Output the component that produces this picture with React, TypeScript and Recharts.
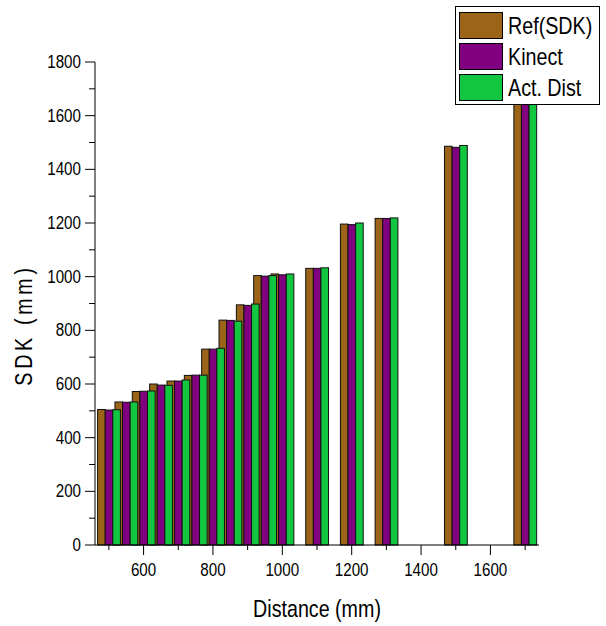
import { Bar, BarChart, Legend, XAxis, YAxis } from "recharts";

const distances = [500, 550, 600, 650, 700, 750, 800, 850, 900, 950, 1000, 1100, 1200, 1300, 1500, 1700];
const refSdk = [505, 533, 572, 600, 611, 632, 730, 838, 895, 1004, 1010, 1031, 1196, 1217, 1486, 1690];
const kinect = [503, 532, 573, 596, 611, 633, 730, 837, 893, 1002, 1007, 1031, 1194, 1217, 1482, 1688];
const actDist = [504, 533, 574, 595, 615, 633, 733, 834, 898, 1004, 1010, 1033, 1200, 1219, 1489, 1692];

const seriesNames = ["Ref(SDK)", "Kinect", "Act. Dist"];
const xTicks = [500, 600, 700, 800, 900, 1000, 1100, 1200, 1300, 1400, 1500, 1600, 1700];
const yTicks = [0, 100, 200, 300, 400, 500, 600, 700, 800, 900, 1000, 1100, 1200, 1300, 1400, 1500, 1600, 1700, 1800];

const data = distances.map((d, i) => ({
  distance: d,
  ref: refSdk[i],
  kinect: kinect[i],
  act: actDist[i],
}));

const FONT = "'Liberation Sans', Arial, sans-serif";
const SX = 0.82; // no narrow font installed, squeeze horizontally
const BAR_W = 7.6;
const X_DOMAIN = [460, 1740];

// narrow text helper
const NText = ({ x, y, angle = 0, size, anchor = "middle", spacing = 0, children }: any) => (
  <text
    transform={`translate(${x} ${y}) rotate(${angle}) scale(${SX} 1)`}
    textAnchor={anchor}
    fontSize={size}
    fontFamily={FONT}
    letterSpacing={spacing}
    fill="#000"
  >
    {children}
  </text>
);

// each series sits on its own x axis so recharts doesn't squeeze the group
const barShape = (shift: number) => (props: any) => {
  const { x, y, width, height, fill } = props;
  if (!height) return <g />;
  return <rect x={x + shift} y={y} width={width} height={height} fill={fill} stroke="#111" strokeWidth={1} />;
};

const YTick = (props: any) => {
  const { x, y, payload } = props;
  const major = payload.value % 200 === 0;
  return (
    <g>
      <line x1={x - (major ? 10 : 6)} x2={x} y1={y} y2={y} stroke="#000" />
      {major && (
        <NText x={x - 14} y={y + 6} size={18.5} anchor="end">
          {payload.value}
        </NText>
      )}
    </g>
  );
};

const XTick = (props: any) => {
  const { x, y, payload } = props;
  const major = payload.value % 200 === 0;
  return (
    <g>
      <line x1={x} x2={x} y1={y} y2={y + (major ? 10 : 5)} stroke="#000" />
      {major && (
        <NText x={x} y={y + 31} size={18.5}>
          {payload.value}
        </NText>
      )}
    </g>
  );
};

const renderLegend = (props: any) => {
  const items = [...(props.payload || [])].sort(
    (a: any, b: any) => seriesNames.indexOf(a.value) - seriesNames.indexOf(b.value)
  );
  return (
    <div
      style={{
        border: "1px solid #000",
        background: "#fff",
        padding: "3px 4px 1px 3px",
        fontFamily: FONT,
        fontSize: 24,
        color: "#000",
        width: 136,
      }}
    >
      {items.map((e: any) => (
        <div key={e.value} style={{ display: "flex", alignItems: "center", height: 31, whiteSpace: "nowrap" }}>
          <span
            style={{
              width: 44,
              height: 27,
              boxSizing: "border-box",
              background: e.color,
              border: "1px solid #000",
              marginRight: 5,
              flexShrink: 0,
            }}
          />
          <span
            style={{
              lineHeight: "27px",
              display: "inline-block",
              transform: `scaleX(${SX})`,
              transformOrigin: "left center",
            }}
          >
            {e.value}
          </span>
        </div>
      ))}
    </div>
  );
};

export default function App() {
  return (
    <div style={{ position: "absolute", left: 0, top: 0, width: 606, height: 626, background: "#fff" }}>
      <BarChart width={606} height={626} data={data} margin={{ top: 62, right: 67, bottom: 21, left: 5 }}>
        <XAxis
          xAxisId="main"
          dataKey="distance"
          type="number"
          domain={X_DOMAIN}
          allowDataOverflow
          ticks={xTicks}
          interval={0}
          tick={<XTick />}
          tickLine={false}
          tickSize={0}
          tickMargin={0}
          height={60}
          axisLine={{ stroke: "#000" }}
          label={{
            content: () => (
              <NText x={317} y={617} size={24}>
                Distance (mm)
              </NText>
            ),
          }}
        />
        <XAxis
          xAxisId="ref"
          orientation="top"
          dataKey="distance"
          type="number"
          domain={X_DOMAIN}
          allowDataOverflow
          height={0}
          hide
        />
        <XAxis
          xAxisId="act"
          orientation="top"
          dataKey="distance"
          type="number"
          domain={X_DOMAIN}
          allowDataOverflow
          height={0}
          hide
        />
        <YAxis
          domain={[0, 1800]}
          ticks={yTicks}
          interval={0}
          tick={<YTick />}
          tickLine={false}
          tickSize={0}
          tickMargin={0}
          width={90}
          axisLine={{ stroke: "#000" }}
          label={{
            content: () => (
              <NText x={32} y={325} angle={-90} size={24} spacing={4.5}>
                SDK (mm)
              </NText>
            ),
          }}
        />
        <Legend
          layout="vertical"
          align="center"
          verticalAlign="middle"
          content={renderLegend}
          wrapperStyle={{ top: 6, left: 455, width: "auto", height: "auto" }}
        />
        <Bar
          xAxisId="ref"
          dataKey="ref"
          name={seriesNames[0]}
          fill="#9B6419"
          barSize={BAR_W}
          shape={barShape(-BAR_W)}
          isAnimationActive={false}
        />
        <Bar
          xAxisId="main"
          dataKey="kinect"
          name={seriesNames[1]}
          fill="#800080"
          barSize={BAR_W}
          shape={barShape(0)}
          isAnimationActive={false}
        />
        <Bar
          xAxisId="act"
          dataKey="act"
          name={seriesNames[2]}
          fill="#13C640"
          barSize={BAR_W}
          shape={barShape(BAR_W)}
          isAnimationActive={false}
        />
      </BarChart>
    </div>
  );
}
